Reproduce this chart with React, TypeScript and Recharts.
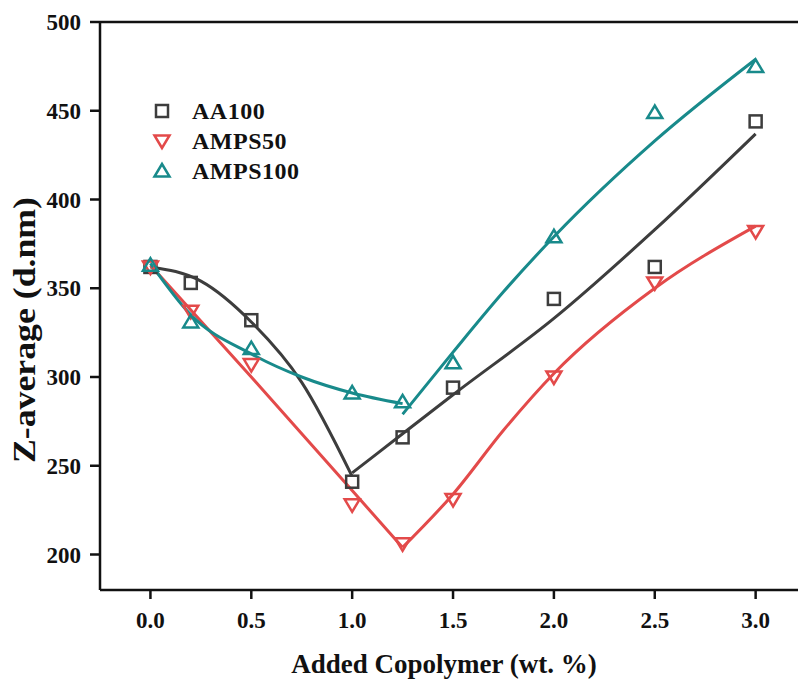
import {
  ComposedChart,
  Line,
  Scatter,
  XAxis,
  YAxis,
  ReferenceLine,
  Legend,
} from "recharts";

// measured points (Z-average, d.nm) at each copolymer dose (wt. %)
const doses = [0, 0.2, 0.5, 1.0, 1.25, 1.5, 2.0, 2.5, 3.0];
const aa100 = [362, 353, 332, 241, 266, 294, 344, 362, 444];
const amps50 = [362, 337, 307, 228, 206, 231, 300, 353, 382];
const amps100 = [363, 331, 316, 291, 286, 308, 379, 449, 475];

// fitted curves (two branches each)
const aa100FitXA = [0, 0.25, 0.5, 0.75, 1.0];
const aa100FitYA = [362, 354, 331, 297, 244];
const aa100FitXB = [1.0, 1.25, 1.5, 2.0, 2.5, 3.0];
const aa100FitYB = [246, 268, 290, 333, 383, 437];

const amps50FitXA = [0, 0.5, 1.0, 1.25];
const amps50FitYA = [363, 300, 236, 204];
const amps50FitXB = [1.25, 1.5, 1.75, 2.0, 2.5, 3.0];
const amps50FitYB = [204, 234, 270, 302, 350, 385];

const amps100FitXA = [0, 0.2, 0.5, 0.75, 1.0, 1.25];
const amps100FitYA = [364, 335, 313, 300, 291, 285];
const amps100FitXB = [1.25, 1.5, 1.75, 2.0, 2.5, 3.0];
const amps100FitYB = [279, 314, 348, 379, 433, 479];

const seriesNames = ["AA100", "AMPS50", "AMPS100"];
const xTicks = [0, 0.5, 1.0, 1.5, 2.0, 2.5, 3.0];
const yTicks = [200, 250, 300, 350, 400, 450, 500];

const GRAY = "#3d3d3d";
const RED = "#e34a4a";
const TEAL = "#188a8b";
const FONT = "'Liberation Serif', 'Times New Roman', serif";

const toPoints = (xs: number[], ys: number[]) =>
  xs.map((x, i) => ({ x, y: ys[i] }));

const Square = ({ cx, cy, color }: any) => (
  <rect
    x={cx - 6}
    y={cy - 6}
    width={12}
    height={12}
    fill="none"
    stroke={color}
    strokeWidth={2.5}
  />
);

const TriUp = ({ cx, cy, color }: any) => (
  <polygon
    points={`${cx},${cy - 7} ${cx - 7.5},${cy + 5.5} ${cx + 7.5},${cy + 5.5}`}
    fill="none"
    stroke={color}
    strokeWidth={2.5}
  />
);

const TriDown = ({ cx, cy, color }: any) => (
  <polygon
    points={`${cx},${cy + 7} ${cx - 7.5},${cy - 5.5} ${cx + 7.5},${cy - 5.5}`}
    fill="none"
    stroke={color}
    strokeWidth={2.5}
  />
);

const markers = [
  { Shape: Square, color: GRAY },
  { Shape: TriDown, color: RED },
  { Shape: TriUp, color: TEAL },
];

const renderLegend = () => (
  <svg width={180} height={92}>
    {seriesNames.map((name, i) => {
      const { Shape, color } = markers[i];
      const cy = 16 + i * 30;
      return (
        <g key={name}>
          <Shape cx={12} cy={cy} color={color} />
          <text
            x={42}
            y={cy}
            dy="0.35em"
            fontFamily={FONT}
            fontWeight="bold"
            fontSize={24}
            letterSpacing={0.5}
            fill="#111"
          >
            {name}
          </text>
        </g>
      );
    })}
  </svg>
);

const renderYLabel = () => (
  <text
    x={24}
    y={330}
    transform="rotate(-90, 24, 330)"
    textAnchor="middle"
    dominantBaseline="central"
    fontFamily={FONT}
    fontWeight="bold"
    fontSize={31}
    textLength={266}
    lengthAdjust="spacingAndGlyphs"
    fill="#111"
  >
    Z-average (d.nm)
  </text>
);

const renderXLabel = () => (
  <text
    x={444}
    y={673}
    textAnchor="middle"
    fontFamily={FONT}
    fontWeight="bold"
    fontSize={27}
    fill="#111"
  >
    Added Copolymer (wt. %)
  </text>
);

const tickStyle = {
  fontFamily: FONT,
  fontWeight: "bold",
  fontSize: 23,
  fill: "#111",
};

export default function App() {
  return (
    <div
      style={{
        position: "absolute",
        left: 0,
        top: 0,
        width: 798,
        height: 681,
        background: "#fff",
      }}
    >
      <ComposedChart
        width={798}
        height={681}
        margin={{ top: 22, right: 0, left: 0, bottom: 0 }}
      >
        <XAxis
          type="number"
          dataKey="x"
          domain={[-0.25, 3.21]}
          allowDataOverflow
          ticks={xTicks}
          tickFormatter={(v: number) => v.toFixed(1)}
          height={91}
          tickSize={9}
          tickMargin={13}
          tick={tickStyle}
          axisLine={{ stroke: "#111", strokeWidth: 2.5 }}
          tickLine={{ stroke: "#111", strokeWidth: 2.5 }}
          label={renderXLabel}
        />
        <YAxis
          type="number"
          dataKey="y"
          domain={[180, 500]}
          allowDataOverflow
          ticks={yTicks}
          width={100}
          tickSize={10}
          tickMargin={9}
          tick={tickStyle}
          axisLine={{ stroke: "#111", strokeWidth: 2.5 }}
          tickLine={{ stroke: "#111", strokeWidth: 2.5 }}
          label={renderYLabel}
        />
        <ReferenceLine y={500} stroke="#111" strokeWidth={2.5} />

        <Line data={toPoints(aa100FitXA, aa100FitYA)} dataKey="y" type="monotone" stroke={GRAY} strokeWidth={3} dot={false} activeDot={false} isAnimationActive={false} />
        <Line data={toPoints(aa100FitXB, aa100FitYB)} dataKey="y" type="monotone" stroke={GRAY} strokeWidth={3} dot={false} activeDot={false} isAnimationActive={false} />
        <Line data={toPoints(amps50FitXA, amps50FitYA)} dataKey="y" type="linear" stroke={RED} strokeWidth={3} dot={false} activeDot={false} isAnimationActive={false} />
        <Line data={toPoints(amps50FitXB, amps50FitYB)} dataKey="y" type="monotone" stroke={RED} strokeWidth={3} dot={false} activeDot={false} isAnimationActive={false} />
        <Line data={toPoints(amps100FitXA, amps100FitYA)} dataKey="y" type="monotone" stroke={TEAL} strokeWidth={3} dot={false} activeDot={false} isAnimationActive={false} />
        <Line data={toPoints(amps100FitXB, amps100FitYB)} dataKey="y" type="monotone" stroke={TEAL} strokeWidth={3} dot={false} activeDot={false} isAnimationActive={false} />

        <Scatter
          name="AA100"
          data={toPoints(doses, aa100)}
          isAnimationActive={false}
          shape={(p: any) => <Square cx={p.cx} cy={p.cy} color={GRAY} />}
        />
        <Scatter
          name="AMPS50"
          data={toPoints(doses, amps50)}
          isAnimationActive={false}
          shape={(p: any) => <TriDown cx={p.cx} cy={p.cy} color={RED} />}
        />
        <Scatter
          name="AMPS100"
          data={toPoints(doses, amps100)}
          isAnimationActive={false}
          shape={(p: any) => <TriUp cx={p.cx} cy={p.cy} color={TEAL} />}
        />

        <Legend
          layout="horizontal"
          verticalAlign="middle"
          align="center"
          wrapperStyle={{ left: 150, top: 95, width: "auto", height: "auto" }}
          content={renderLegend}
        />
      </ComposedChart>
    </div>
  );
}
